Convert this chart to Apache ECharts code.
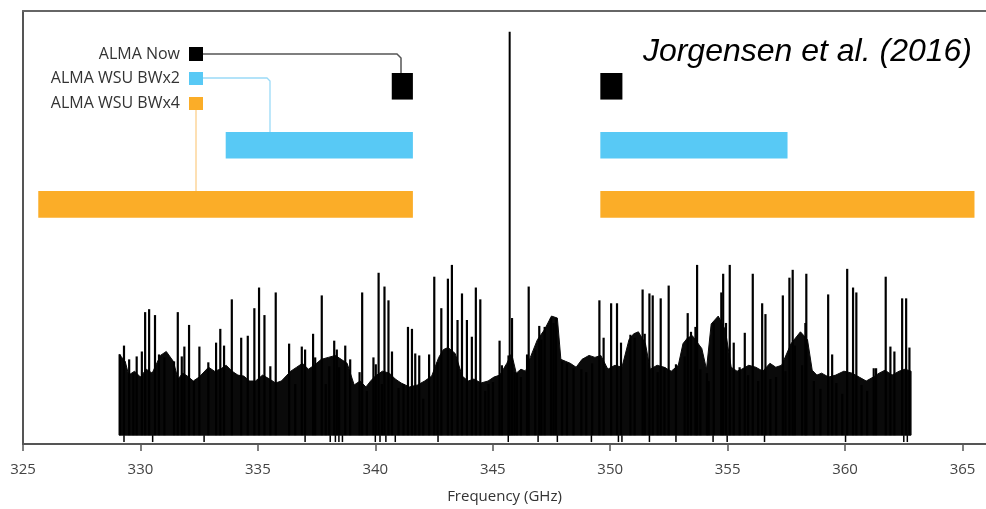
<!DOCTYPE html>
<html>
<head>
<meta charset="utf-8">
<script src="https://cdn.jsdelivr.net/npm/echarts@6/dist/echarts.min.js"></script>
<style>
  html, body { margin: 0; padding: 0; background: #fff; }
  #chart { width: 986px; height: 509px; }
</style>
</head>
<body>
<div id="chart"></div>
<script>
"use strict";

// x ticks (GHz)
var tickValues = [325, 330, 335, 340, 345, 350, 355, 360, 365];

// spectral windows, GHz: [start, end]
var almaNow = [[340.70, 341.60], [349.58, 350.52]];
var wsuBw2 = [[333.63, 341.60], [349.58, 357.55]];
var wsuBw4 = [[325.65, 341.60], [349.58, 365.51]];

// spectrum, heights in arbitrary units (0..440)
var bandBase = 9;
var envFreq = [329.09, 329.10, 329.35, 329.5, 329.75, 330.0, 330.25, 330.5, 330.85, 331.1, 331.4, 331.6, 331.8,
  332.0, 332.25, 332.5, 332.9, 333.15, 333.4, 333.65, 333.9, 334.15, 334.4, 334.65, 334.9, 335.2, 335.5, 335.75,
  336.0, 336.4, 336.65, 336.9, 337.15, 337.4, 337.7, 338.0, 338.3, 338.55, 338.8, 339.1, 339.35, 339.6, 339.8,
  340.0, 340.3, 340.6, 340.85, 341.1, 341.45, 341.8, 342.1, 342.4, 342.7, 342.9, 343.1, 343.4, 343.7, 343.95,
  344.2, 344.5, 344.8, 345.05, 345.3, 345.6, 345.8, 346.0, 346.2, 346.4, 346.6, 346.9, 347.2, 347.5, 347.75,
  347.9, 348.1, 348.3, 348.55, 348.8, 349.1, 349.35, 349.6, 349.9, 350.2, 350.5, 350.8, 351.0, 351.2, 351.5,
  351.7, 352.0, 352.3, 352.6, 352.9, 353.1, 353.3, 353.5, 353.9, 354.1, 354.3, 354.6, 354.9, 355.15, 355.4,
  355.6, 355.9, 356.2, 356.5, 356.8, 357.05, 357.3, 357.7, 358.1, 358.4, 358.6, 358.8, 359.0, 359.3, 359.6,
  359.95, 360.3, 360.6, 360.9, 361.2, 361.45, 361.7, 362.0, 362.3, 362.55, 362.81];
var envTop = [91, 91, 84, 70, 74, 68, 76, 72, 90, 94, 84, 66, 72,
  69, 64, 68, 78, 74, 76, 80, 74, 70, 69, 64, 64, 70, 66, 62,
  64, 74, 78, 82, 76, 80, 86, 88, 90, 86, 82, 60, 64, 58, 64,
  69, 74, 72, 66, 62, 58, 60, 64, 69, 88, 96, 98, 92, 69, 64,
  66, 62, 64, 68, 70, 82, 92, 72, 76, 74, 88, 106, 116, 130, 128,
  86, 84, 82, 78, 86, 90, 88, 90, 76, 80, 78, 106, 112, 114, 102,
  76, 80, 78, 74, 80, 102, 108, 110, 97, 76, 122, 130, 116, 78, 74,
  76, 80, 78, 74, 82, 78, 80, 102, 114, 106, 75, 70, 72, 68, 70,
  74, 72, 68, 64, 68, 72, 75, 70, 74, 76, 74];

var spikeFreq = [329.13, 329.30, 329.52, 329.70, 329.84, 330.06, 330.20, 330.37, 330.62, 330.79, 331.02, 331.43,
  331.59, 331.76, 331.87, 332.07, 332.28, 332.51, 332.89, 333.22, 333.40, 333.56, 333.89, 334.29, 334.57, 334.85,
  335.05, 335.28, 335.53, 335.76, 336.33, 336.59, 336.87, 337.01, 337.35, 337.44, 337.72, 337.89, 338.04, 338.25,
  338.36, 338.46, 338.72, 338.93, 339.33, 339.44, 339.64, 339.92, 340.02, 340.14, 340.28, 340.39, 340.56, 340.71,
  340.99, 341.20, 341.39, 341.56, 341.70, 341.87, 342.04, 342.29, 342.51, 342.65, 342.81, 343.09, 343.26, 343.50,
  343.69, 343.90, 344.11, 344.28, 344.47, 344.68, 344.82, 345.01, 345.29, 345.39, 345.67, 345.82, 345.93, 346.03,
  346.20, 346.46, 346.53, 346.81, 346.98, 347.07, 347.21, 347.48, 347.59, 347.69, 347.95, 348.16, 348.44, 348.77,
  348.98, 349.23, 349.54, 349.72, 350.04, 350.29, 350.46, 350.86, 351.04, 351.38, 351.47, 351.67, 351.81, 352.02,
  352.15, 352.31, 352.49, 352.80, 353.17, 353.30, 353.44, 353.63, 353.70, 353.84, 354.12, 354.19, 354.41, 354.73,
  354.81, 354.93, 355.09, 355.26, 355.51, 355.73, 355.87, 356.07, 356.30, 356.47, 356.61, 356.82, 357.06, 357.35,
  357.46, 357.63, 357.77, 357.86, 358.17, 358.31, 358.35, 358.67, 358.95, 359.28, 359.45, 359.63, 359.88, 360.09,
  360.34, 360.48, 360.70, 360.94, 361.22, 361.32, 361.73, 361.93, 362.10, 362.43, 362.60, 362.74];
var spikeTop = [91, 100, 86, 72, 89, 94, 134, 137, 131, 91, 88, 84,
  134, 89, 99, 121, 64, 99, 83, 103, 117, 100, 147, 108, 110, 138,
  159, 131, 79, 154, 102, 61, 99, 96, 112, 88, 151, 61, 79, 105,
  96, 78, 100, 86, 73, 154, 54, 88, 81, 174, 61, 160, 146, 94,
  57, 61, 119, 117, 92, 90, 46, 91, 170, 83, 138, 168, 182, 126,
  153, 126, 109, 159, 147, 54, 61, 63, 105, 80, 90, 128, 73, 72,
  68, 91, 160, 96, 120, 106, 119, 128, 123, 128, 84, 82, 77, 76,
  73, 82, 146, 108, 143, 143, 103, 111, 108, 157, 112, 153, 151, 73,
  148, 78, 161, 81, 89, 133, 114, 119, 182, 76, 72, 64, 123, 154,
  173, 123, 182, 103, 78, 113, 70, 173, 64, 143, 132, 66, 68, 151,
  74, 169, 177, 100, 80, 123, 173, 64, 56, 152, 91, 62, 51, 178,
  159, 154, 60, 54, 77, 77, 170, 99, 94, 148, 148, 98];

// strong line near 345.7 GHz
var peakFreq = [345.72];
var peakTop = [419];

// short downward noise dips below the band
var dipFreq = [329.30, 330.52, 332.71, 337.01, 338.08, 338.30, 338.45, 338.60, 340.00, 340.20, 340.45, 340.85,
  342.67, 345.66, 346.93, 347.75, 349.20, 350.35, 350.50, 351.67, 352.80, 354.38, 354.98, 356.57, 360.02, 362.50, 362.65];

var chart = echarts.init(document.getElementById('chart'), null, { renderer: 'canvas' });

function toPairs(xs, ys) {
  return xs.map(function (x, i) { return [x, ys[i]]; });
}

// rows for the window bars, in y units
var rowNow = [350, 377];
var rowBw2 = [290, 317];
var rowBw4 = [230, 257];

function windowSeries(name, ranges, row, color) {
  return {
    name: name,
    type: 'custom',
    silent: true,
    data: ranges,
    renderItem: function (params, api) {
      var p0 = api.coord([api.value(0), row[1]]);
      var p1 = api.coord([api.value(1), row[0]]);
      return {
        type: 'rect',
        shape: { x: p0[0], y: p0[1], width: p1[0] - p0[0], height: p1[1] - p0[1] },
        style: { fill: color }
      };
    }
  };
}

function lineSeries(name, xs, ys, from, width) {
  return {
    name: name,
    type: 'custom',
    silent: true,
    data: toPairs(xs, ys),
    renderItem: function (params, api) {
      var p0 = api.coord([api.value(0), from]);
      var p1 = api.coord([api.value(0), api.value(1)]);
      return {
        type: 'line',
        shape: { x1: p0[0], y1: p0[1], x2: p1[0], y2: p1[1] },
        style: { stroke: '#000', lineWidth: width }
      };
    }
  };
}

var option = {
  animation: false,
  backgroundColor: '#fff',
  grid: { left: 23, right: 0, top: 11, bottom: 58 },
  xAxis: [{
    type: 'value',
    min: 325,
    max: 366,
    interval: 5,
    position: 'bottom',
    axisLine: { show: true, lineStyle: { color: '#555', width: 2 } },
    axisTick: { show: true, inside: false, length: 7, lineStyle: { color: '#555', width: 1.5 },
      customValues: tickValues },
    axisLabel: { show: true, margin: 18, fontFamily: 'Open Sans', fontSize: 15, color: '#444',
      customValues: tickValues },
    splitLine: { show: false },
    name: 'Frequency (GHz)',
    nameLocation: 'middle',
    nameGap: 45,
    nameTextStyle: { fontFamily: 'Open Sans', fontSize: 15, color: '#333' }
  }, {
    type: 'value',
    min: 325,
    max: 366,
    position: 'top',
    axisLine: { show: true, lineStyle: { color: '#666', width: 2 } },
    axisTick: { show: false },
    axisLabel: { show: false },
    splitLine: { show: false }
  }],
  yAxis: {
    type: 'value',
    min: 0,
    max: 440,
    axisLine: { show: true, lineStyle: { color: '#555', width: 2 } },
    axisTick: { show: false },
    axisLabel: { show: false },
    splitLine: { show: false }
  },
  series: [
    {
      // continuum band drawn as one polygon from the envelope arrays
      name: 'band',
      type: 'custom',
      silent: true,
      data: toPairs(envFreq, envTop),
      renderItem: function (params, api) {
        if (params.dataIndex !== 0) return null;
        var pts = [api.coord([envFreq[0], bandBase])];
        for (var i = 0; i < envFreq.length; i++) {
          pts.push(api.coord([envFreq[i], envTop[i]]));
        }
        pts.push(api.coord([envFreq[envFreq.length - 1], bandBase]));
        return {
          type: 'polygon',
          shape: { points: pts },
          style: { fill: '#0a0a0a', stroke: '#0a0a0a', lineWidth: 1 }
        };
      }
    },
    lineSeries('spikes', spikeFreq, spikeTop, bandBase, 2.2),
    lineSeries('dips', dipFreq, dipFreq.map(function () { return bandBase; }), 2, 1.5),
    lineSeries('peak', peakFreq, peakTop, bandBase, 2),
    windowSeries('ALMA Now', almaNow, rowNow, '#000000'),
    windowSeries('ALMA WSU BWx2', wsuBw2, rowBw2, '#58c9f5'),
    windowSeries('ALMA WSU BWx4', wsuBw4, rowBw4, '#fbad28')
  ],
  graphic: [
    // legend labels and swatches
    { type: 'text', x: 180, y: 54, style: { text: 'ALMA Now', fontFamily: 'Open Sans', fontSize: 16,
      fill: '#333', align: 'right', verticalAlign: 'middle' } },
    { type: 'text', x: 180, y: 78, style: { text: 'ALMA WSU BWx2', fontFamily: 'Open Sans', fontSize: 16,
      fill: '#333', align: 'right', verticalAlign: 'middle' } },
    { type: 'text', x: 180, y: 103, style: { text: 'ALMA WSU BWx4', fontFamily: 'Open Sans', fontSize: 16,
      fill: '#333', align: 'right', verticalAlign: 'middle' } },
    { type: 'polyline', shape: { points: [[203, 54], [397, 54], [401, 58], [401, 74]] },
      style: { stroke: '#555', lineWidth: 1.5, fill: null } },
    { type: 'polyline', shape: { points: [[203, 78], [267, 78], [270, 81], [270, 134]] },
      style: { stroke: '#9bdaf7', lineWidth: 1.3, fill: null } },
    { type: 'line', shape: { x1: 196, y1: 110, x2: 196, y2: 194 },
      style: { stroke: '#fcd08c', lineWidth: 1.3 } },
    { type: 'rect', shape: { x: 189, y: 47, width: 14, height: 14 }, style: { fill: '#000' } },
    { type: 'rect', shape: { x: 189, y: 72, width: 14, height: 13 }, style: { fill: '#58c9f5' } },
    { type: 'rect', shape: { x: 189, y: 97, width: 14, height: 13 }, style: { fill: '#fbad28' } },
    // citation
    { type: 'text', x: 972, y: 52, style: { text: 'Jorgensen et al. (2016)', fontFamily: 'Liberation Sans',
      fontStyle: 'italic', fontSize: 32, fill: '#000', align: 'right', verticalAlign: 'middle' } }
  ]
};

chart.setOption(option);
</script>
</body>
</html>
